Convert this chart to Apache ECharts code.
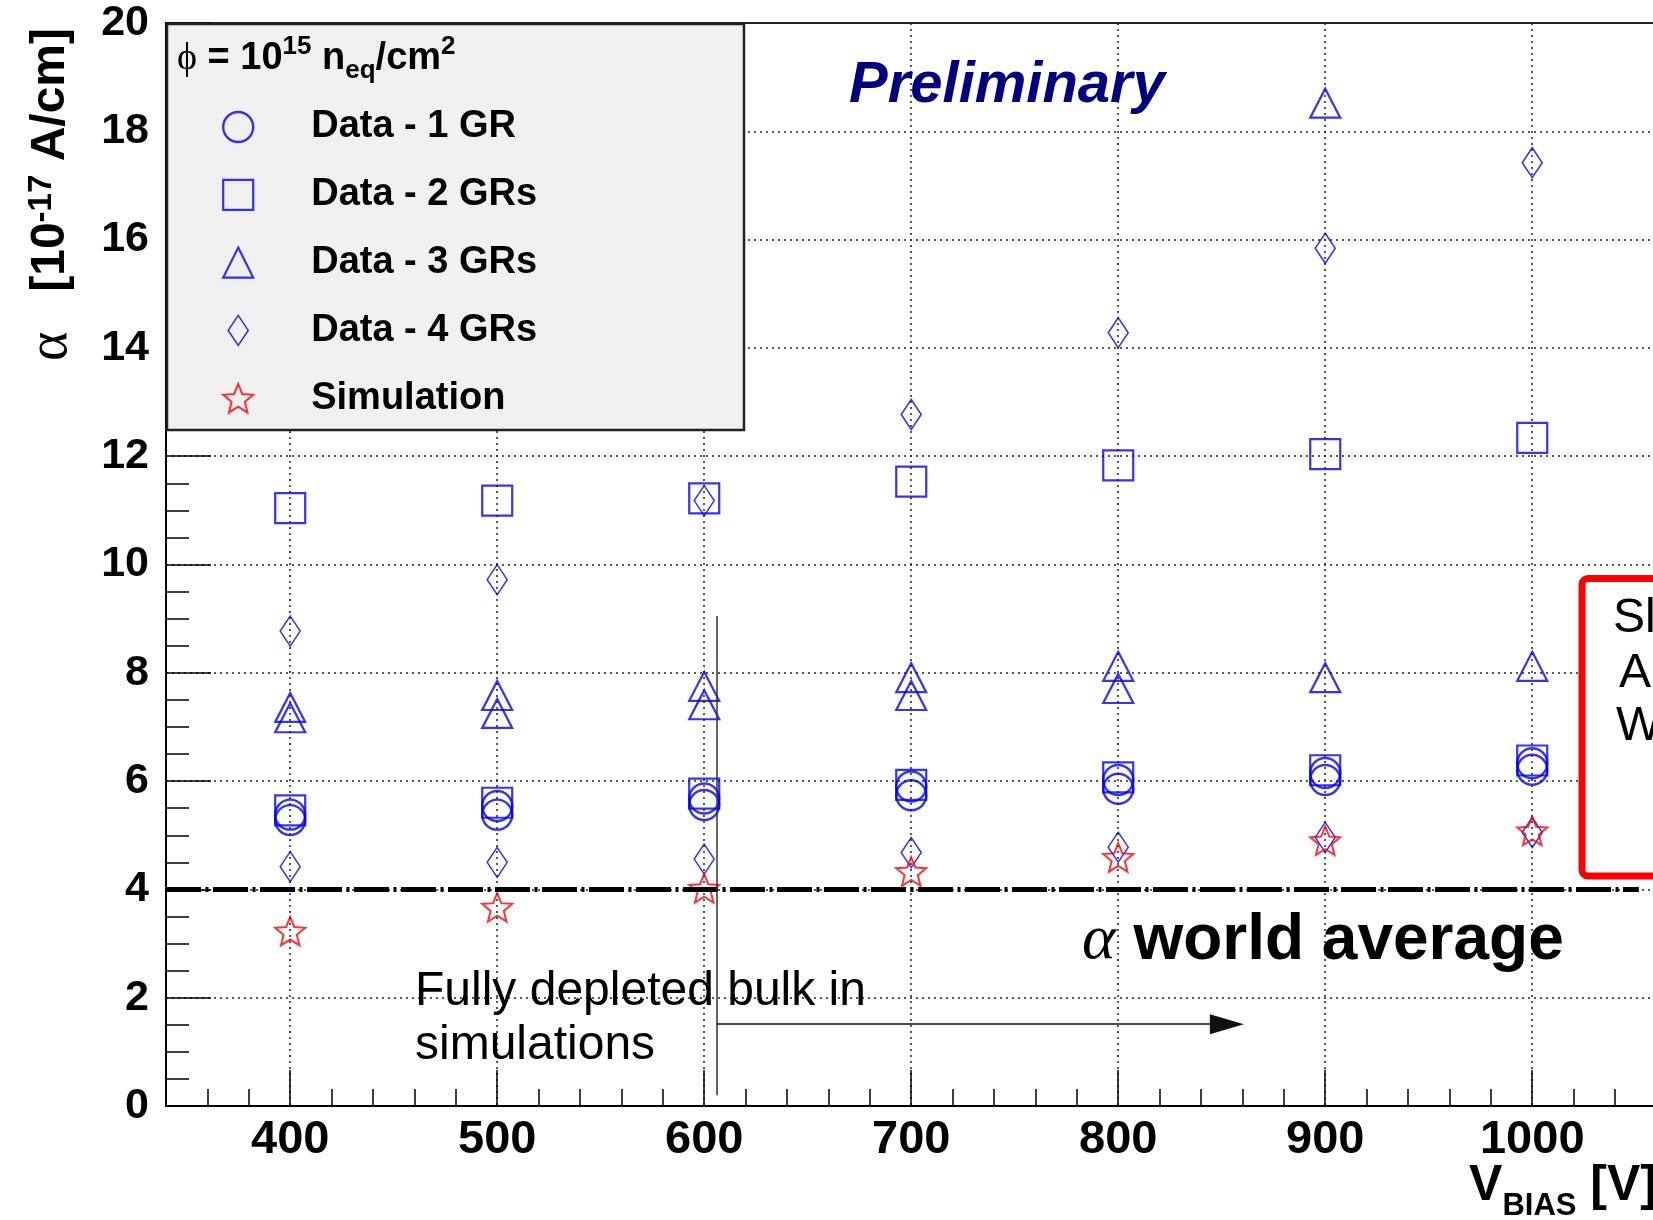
<!DOCTYPE html>
<html>
<head>
<meta charset="utf-8">
<script src="https://cdn.jsdelivr.net/npm/echarts@6/dist/echarts.min.js"></script>
<style>html,body{margin:0;padding:0;background:#fff}#c{width:1653px;height:1220px}</style>
</head>
<body>
<div id="c"></div>
<script>
// ---------------- data ----------------
const voltages = [400, 500, 600, 700, 800, 900, 1000];
const gr1Upper = [5.38, 5.54, 5.68, 5.90, 6.02, 6.15, 6.33];
const gr1Lower = [5.28, 5.38, 5.56, 5.74, 5.86, 6.02, 6.21];
const gr2Upper = [11.04, 11.18, 11.22, 11.53, 11.83, 12.04, 12.34];
const gr2Lower = [5.46, 5.60, 5.77, 5.93, 6.07, 6.20, 6.38];
const gr3First = [7.36, 7.58, 7.75, 7.91, 8.12, 7.91, 8.12];
const gr3Second = [7.17, 7.25, 7.41, 7.58, 7.71, 18.52, null];
const gr4Upper = [8.77, 9.72, 11.18, 12.77, 14.28, 15.84, 17.42];
const gr4Lower = [4.42, 4.50, 4.56, 4.68, 4.78, 4.96, 5.05];
const simulation = [3.23, 3.67, 4.02, 4.33, 4.59, 4.90, 5.08];

const seriesNames = ['Data - 1 GR', 'Data - 2 GRs', 'Data - 3 GRs', 'Data - 4 GRs', 'Simulation'];
const xTickLabels = [400, 500, 600, 700, 800, 900, 1000];
const yTickLabels = [0, 2, 4, 6, 8, 10, 12, 14, 16, 18, 20];

const worldAverage = 4;
const worldAverageSpan = [340, 1051.5];
const depletionVoltage = 606;
const depletionLineSpan = [0.2, 9.05];
const arrowLevel = 1.51;
const arrowSpan = [606, 852.5];

// ---------------- helpers ----------------
function pairs(xs, ...lists) {
  const out = [];
  lists.forEach(ys => ys.forEach((y, i) => { if (y != null) out.push([xs[i], y]); }));
  return out;
}
const SANS = "'Liberation Sans', Arial, Helvetica, sans-serif";
const SERIF = "'Liberation Serif', 'Times New Roman', serif";
const BLUE = '#0000ff';
const RED = '#ff0000';
const DIAMOND = 'path://M10,0 L20,15 L10,30 L0,15 Z';
const STAR = 'path://M50,0 L62.93,32.2 L97.55,34.55 L70.92,56.8 L79.39,90.45 L50,72 L20.61,90.45 L29.08,56.8 L2.45,34.55 L37.07,32.2 Z';
const empty = (c, w) => ({ color: 'rgba(0,0,0,0)', borderColor: c, borderWidth: w });

const chart = echarts.init(document.getElementById('c'), null, { renderer: 'canvas' });

const option = {
  animation: false,
  backgroundColor: '#ffffff',
  grid: { left: 166, width: 1507, top: 23, height: 1083, outerBoundsMode: 'none', containLabel: false,
    show: true, borderColor: '#222', borderWidth: 2, backgroundColor: 'rgba(0,0,0,0)' },
  xAxis: {
    type: 'value', min: 340, max: 1068, minInterval: 100, maxInterval: 100,
    axisLine: { show: true, onZero: false, lineStyle: { color: '#000', width: 2 } },
    axisTick: { show: true, inside: true, length: 36, lineStyle: { color: '#000', width: 1.5 } },
    minorTick: { show: true, splitNumber: 5, length: 17, lineStyle: { color: '#000', width: 1.5 } },
    axisLabel: { fontSize: 47, fontWeight: 'bold', fontFamily: SANS, color: '#000', margin: 11,
      showMinLabel: false, showMaxLabel: false,
      formatter: v => (xTickLabels.indexOf(v) >= 0 ? String(v) : '') },
    splitLine: { show: true, showMinLine: false, showMaxLine: false, lineStyle: { color: '#222', width: 1.5, type: [2, 4] } }
  },
  yAxis: {
    type: 'value', min: 0, max: 20, interval: 2,
    axisLine: { show: true, onZero: false, lineStyle: { color: '#000', width: 2 } },
    axisTick: { show: true, inside: true, length: 45, lineStyle: { color: '#000', width: 1.5 } },
    minorTick: { show: true, splitNumber: 4, length: 23, lineStyle: { color: '#000', width: 1.5 } },
    axisLabel: { fontSize: 43, fontWeight: 'bold', fontFamily: SANS, color: '#000', margin: 17,
      formatter: v => (yTickLabels.indexOf(v) >= 0 ? String(v) : '') },
    splitLine: { show: true, showMinLine: false, showMaxLine: false, lineStyle: { color: '#222', width: 1.5, type: [2, 4] } }
  },
  legend: {
    show: true, orient: 'vertical', left: 222, top: 108, padding: 0,
    itemWidth: 30, itemHeight: 30, itemGap: 29.8, selectedMode: false, z: 10,
    itemStyle: { borderWidth: 'inherit' },
    textStyle: { fontSize: 38, fontWeight: 'bold', fontFamily: SANS, color: '#000', lineHeight: 30, padding: [0, 0, 0, 53] },
    data: [
      { name: seriesNames[0], icon: 'circle' },
      { name: seriesNames[1], icon: 'rect' },
      { name: seriesNames[2], icon: 'triangle' },
      { name: seriesNames[3], icon: DIAMOND },
      { name: seriesNames[4], icon: STAR }
    ]
  },
  series: [
    { name: seriesNames[1], type: 'scatter', symbol: 'rect', symbolSize: 30, z: 3,
      itemStyle: empty(BLUE, 2.2), data: pairs(voltages, gr2Upper, gr2Lower) },
    { name: seriesNames[0], type: 'scatter', symbol: 'circle', symbolSize: 30, z: 3,
      itemStyle: empty(BLUE, 2.4), data: pairs(voltages, gr1Upper, gr1Lower) },
    { name: seriesNames[2], type: 'scatter', symbol: 'triangle', symbolSize: [30, 29], z: 3,
      itemStyle: empty(BLUE, 2.2), data: pairs(voltages, gr3First, gr3Second) },
    { name: seriesNames[3], type: 'scatter', symbol: DIAMOND, symbolSize: [20, 30], z: 3,
      itemStyle: empty(BLUE, 1.6), data: pairs(voltages, gr4Upper, gr4Lower) },
    { name: seriesNames[4], type: 'scatter', symbol: STAR, symbolSize: [30, 30], symbolKeepAspect: true, z: 4,
      itemStyle: empty(RED, 2), data: pairs(voltages, simulation) },
    { name: 'worldAverage', type: 'scatter', data: [], silent: true, z: 5,
      markLine: { silent: true, symbol: 'none', label: { show: false }, animation: false,
        lineStyle: { color: '#000', width: 5, type: [35, 4.5, 3, 4.5], cap: 'butt' },
        emphasis: { disabled: true },
        data: [[{ coord: [worldAverageSpan[0], worldAverage] }, { coord: [worldAverageSpan[1], worldAverage] }]] } },
    { name: 'depletion', type: 'scatter', data: [], silent: true, z: 5,
      markLine: { silent: true, symbol: 'none', label: { show: false }, animation: false,
        lineStyle: { color: '#333', width: 1.5, type: 'solid' },
        emphasis: { disabled: true },
        data: [[{ coord: [depletionVoltage, depletionLineSpan[0]] }, { coord: [depletionVoltage, depletionLineSpan[1]] }]] } },
    { name: 'arrow', type: 'scatter', data: [], silent: true, z: 5,
      markLine: { silent: true, symbol: ['none', 'triangle'], symbolSize: [1, 30], label: { show: false }, animation: false,
        lineStyle: { color: '#111', width: 1.5, type: 'solid' },
        emphasis: { disabled: true },
        data: [[{ coord: [arrowSpan[0], arrowLevel] }, { coord: [arrowSpan[1], arrowLevel], symbolSize: [20, 34] }]] } }
  ],
  graphic: [
    { type: 'rect', z: 5, shape: { x: 167, y: 24, width: 577, height: 406 },
      style: { fill: '#f0f0f0', stroke: '#222', lineWidth: 2.5 } },
    { type: 'text', z: 11, x: 177, y: 59,
      style: { text: '{p|ϕ}{m| = 10}{s|15}{m| n}{b|eq}{m|/cm}{s|2}', align: 'left', verticalAlign: 'middle', fill: '#000',
        font: "bold 38px " + SANS,
        rich: {
          p: { font: "38px " + SERIF, lineHeight: 50 },
          m: { font: "bold 38px " + SANS, lineHeight: 50 },
          s: { font: "bold 26px " + SANS, lineHeight: 28, verticalAlign: 'top' },
          b: { font: "bold 26px " + SANS, lineHeight: 24, verticalAlign: 'bottom' }
        } } },
    { type: 'text', z: 11, x: 849, y: 86,
      style: { text: 'Preliminary', font: "italic bold 58px " + SANS, fill: '#000080', align: 'left', verticalAlign: 'middle' } },
    { type: 'text', z: 11, x: 51, y: 28, rotation: Math.PI / 2,
      style: { text: '{a|α}{m|   [10}{s|-17}{m| A/cm]}', align: 'right', verticalAlign: 'middle', fill: '#000',
        font: "bold 48px " + SANS,
        rich: {
          a: { font: "56px " + SERIF, lineHeight: 52 },
          m: { font: "bold 48px " + SANS, lineHeight: 52 },
          s: { font: "bold 33px " + SANS, lineHeight: 28, verticalAlign: 'top' }
        } } },
    { type: 'text', z: 11, x: 1657, y: 1186,
      style: { text: '{m|V}{s|BIAS}{m| [V]}', align: 'right', verticalAlign: 'middle', fill: '#000',
        font: "bold 50px " + SANS,
        rich: {
          m: { font: "bold 50px " + SANS, lineHeight: 72 },
          s: { font: "bold 31px " + SANS, lineHeight: 6, verticalAlign: 'bottom' }
        } } },
    { type: 'text', z: 11, x: 1082, y: 941,
      style: { text: '{a|α}{m| world average}', align: 'left', verticalAlign: 'middle', fill: '#000',
        font: "bold 64px " + SANS,
        rich: {
          a: { font: "italic 64px " + SERIF, lineHeight: 70 },
          m: { font: "bold 64px " + SANS, lineHeight: 70 }
        } } },
    { type: 'text', z: 11, x: 415, y: 965,
      style: { text: 'Fully depleted bulk in\nsimulations', font: "48px " + SANS, lineHeight: 54,
        fill: '#000', align: 'left', verticalAlign: 'top' } },
    { type: 'rect', z: 5, shape: { x: 1582, y: 578.5, width: 200, height: 297.5, r: 6 },
      style: { fill: '#ffffff', stroke: RED, lineWidth: 7 } },
    { type: 'text', z: 11, x: 1613, y: 619, style: { text: 'Sl', font: "48px " + SANS, fill: '#000', verticalAlign: 'middle' } },
    { type: 'text', z: 11, x: 1619, y: 674, style: { text: 'A', font: "48px " + SANS, fill: '#000', verticalAlign: 'middle' } },
    { type: 'text', z: 11, x: 1616, y: 727, style: { text: 'W', font: "48px " + SANS, fill: '#000', verticalAlign: 'middle' } }
  ]
};
chart.setOption(option);
</script>
</body>
</html>
